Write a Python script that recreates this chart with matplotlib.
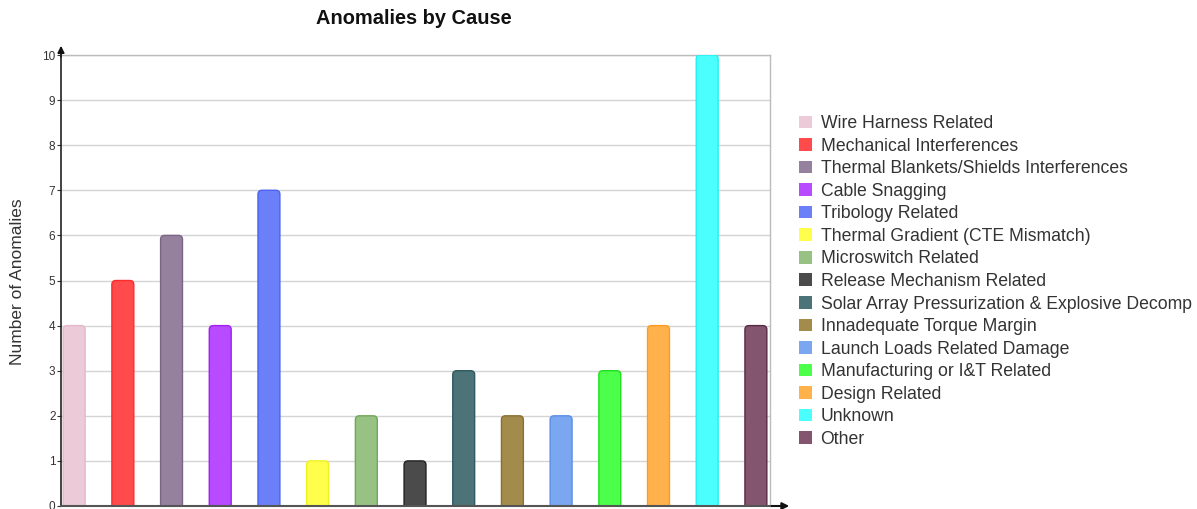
import matplotlib
matplotlib.use("Agg")
import matplotlib.pyplot as plt
from matplotlib.patches import Patch, FancyBboxPatch

categories = ["Wire Harness Related", "Mechanical Interferences",
              "Thermal Blankets/Shields Interferences", "Cable Snagging",
              "Tribology Related", "Thermal Gradient (CTE Mismatch)",
              "Microswitch Related", "Release Mechanism Related",
              "Solar Array Pressurization & Explosive Decomp",
              "Innadequate Torque Margin", "Launch Loads Related Damage",
              "Manufacturing or I&T Related", "Design Related", "Unknown", "Other"]
values = [4, 5, 6, 4, 7, 1, 2, 1, 3, 2, 2, 3, 4, 10, 4]
colors = ["#ECCAD8", "#FF4B4B", "#95809E", "#B84BFF", "#6B80F8", "#FFFF4B",
          "#97C283", "#4B4B4B", "#4B7378", "#A38B4B", "#7BA6F0", "#4BFF4B",
          "#FFB24B", "#4BFFFF", "#83556E"]
edges = ["#E2B8C9", "#FF2A2A", "#7A6585", "#A020F0", "#4B63F0", "#F0F020",
         "#6FA85A", "#222222", "#2F5A60", "#8A7030", "#5A8EE8", "#20E020",
         "#FF9A20", "#20F0F0", "#5A2A45"]
yticks = list(range(0, 11))

plt.rcParams['font.family'] = ['Liberation Sans', 'DejaVu Sans']
fig = plt.figure(figsize=(11.97, 5.09), dpi=100)
W, H = 1197, 509
ax = fig.add_axes([61 / W, 1 - 506 / H, (770 - 61) / W, (506 - 55) / H])

x = list(range(len(values)))
bars = ax.bar(x, values, width=0.45, color=colors, edgecolor=edges, linewidth=1.0, zorder=3)
# replace plain rectangles with rounded-top versions of the same geometry
for b, fc, ec in zip(bars, colors, edges):
    x0, w, h = b.get_x(), b.get_width(), b.get_height()
    b.set_visible(False)
    p = FancyBboxPatch((x0, -0.15), w, h + 0.15,
                       boxstyle="round,pad=0,rounding_size=0.082",
                       mutation_aspect=1.08, facecolor=fc, edgecolor=ec,
                       linewidth=1.0, zorder=3)
    ax.add_patch(p)

ax.set_xlim(-0.27, 14.29)
ax.set_ylim(0, 10)
ax.set_yticks(yticks)
ax.set_yticklabels([str(t) for t in yticks], fontsize=8.5, color="#333333")
ax.set_xticks([])
ax.tick_params(axis='y', length=3, width=0.8, color="#333333", pad=1)
ax.grid(axis='y', color="#d4d4d4", linewidth=1.0, zorder=0)
for s in ['top', 'right']:
    ax.spines[s].set_color("#bbbbbb")
    ax.spines[s].set_linewidth(1.0)
ax.spines['left'].set_color("#222222")
ax.spines['left'].set_linewidth(1.2)
ax.spines['bottom'].set_color("#555555")
ax.spines['bottom'].set_linewidth(1.5)
ax.spines['left'].set_zorder(5)
ax.spines['bottom'].set_zorder(5)

# axis arrows
ax.annotate("", xy=(61 / W, 1 - 43 / H), xytext=(61 / W, 1 - 60 / H),
            xycoords='figure fraction',
            arrowprops=dict(arrowstyle="-|>", color="#111111", lw=1.2, mutation_scale=10))
ax.annotate("", xy=(792 / W, 1 - 506 / H), xytext=(768 / W, 1 - 506 / H),
            xycoords='figure fraction',
            arrowprops=dict(arrowstyle="-|>", color="#111111", lw=1.5, mutation_scale=10))

fig.text(18 / W, 1 - 282 / H, "Number of Anomalies", rotation=90, ha='center',
         va='center', fontsize=12.5, color="#333333")
fig.text(414 / W, 1 - 18 / H, "Anomalies by Cause", ha='center', va='center',
         fontsize=14.4, fontweight='bold', color="#111111")

handles = [Patch(facecolor=c, edgecolor='none') for c in colors]
fig.legend(handles, categories, loc='upper left',
           bbox_to_anchor=(792 / W, 1 - 108 / H), frameon=False,
           fontsize=12.7, handlelength=0.72, handleheight=0.72,
           handletextpad=0.5, labelspacing=0.315, borderaxespad=0,
           labelcolor="#333333")

fig.savefig("out.png", dpi=100)
